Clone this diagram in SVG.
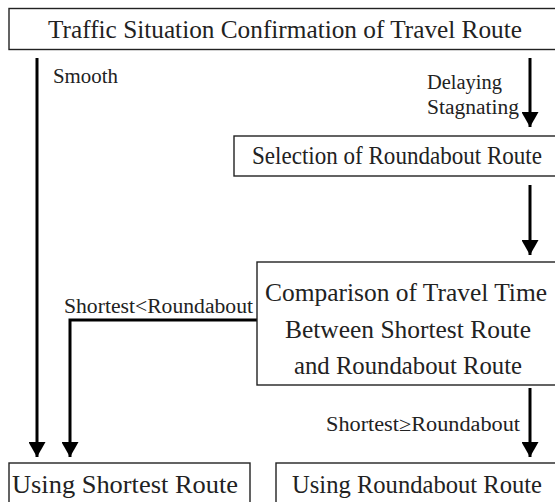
<svg xmlns="http://www.w3.org/2000/svg" width="555" height="502" viewBox="0 0 555 502">
<style>
.box{fill:#fff;stroke:#222;stroke-width:1.4}
.main{font-family:"Liberation Serif","Times New Roman",serif;font-size:25.5px;fill:#222}
.lbl{font-family:"Liberation Serif","Times New Roman",serif;font-size:20px;fill:#222}
.con{fill:none;stroke:#000;stroke-width:3;marker-end:url(#ah)}
</style>
<defs>
<marker id="ah" markerUnits="userSpaceOnUse" markerWidth="16" markerHeight="17" refX="15" refY="8.5" orient="auto" viewBox="0 0 16 17">
<path d="M0,0 L15,8.5 L0,17 z" fill="#000"/>
</marker>
</defs>
<rect width="555" height="502" fill="#fff"/>
<g id="connectors">
<path class="con" d="M37,58 V457"/>
<path class="con" d="M257,320 H70 V457"/>
<path class="con" d="M530,58 V127"/>
<path class="con" d="M530,185 V255"/>
<path class="con" d="M530,388 V457"/>
</g>
<g id="labels">
<text class="lbl" x="53" y="83" textLength="65" lengthAdjust="spacingAndGlyphs">Smooth</text>
<text class="lbl" x="427" y="89" textLength="75" lengthAdjust="spacingAndGlyphs">Delaying</text>
<text class="lbl" x="427" y="114" textLength="92" lengthAdjust="spacingAndGlyphs">Stagnating</text>
<text class="lbl" x="64" y="313" textLength="189" lengthAdjust="spacingAndGlyphs">Shortest&lt;Roundabout</text>
<text class="lbl" x="326" y="431" textLength="194" lengthAdjust="spacingAndGlyphs">Shortest≥Roundabout</text>
</g>
<g id="n1">
<rect class="box" x="9" y="8.5" width="547" height="41"/>
<text class="main" x="48" y="38" textLength="474" lengthAdjust="spacingAndGlyphs">Traffic Situation Confirmation of Travel Route</text>
</g>
<g id="n2">
<rect class="box" x="234" y="136" width="322" height="40"/>
<text class="main" x="252" y="164" textLength="290" lengthAdjust="spacingAndGlyphs">Selection of Roundabout Route</text>
</g>
<g id="n3">
<rect class="box" x="257" y="262" width="299" height="123"/>
<text class="main" x="265" y="301" textLength="282" lengthAdjust="spacingAndGlyphs">Comparison of Travel Time</text>
<text class="main" x="285" y="338" textLength="246" lengthAdjust="spacingAndGlyphs">Between Shortest Route</text>
<text class="main" x="294" y="374" textLength="228" lengthAdjust="spacingAndGlyphs">and Roundabout Route</text>
</g>
<g id="n4">
<rect class="box" x="9" y="463" width="241" height="40"/>
<text class="main" x="12" y="493" textLength="226" lengthAdjust="spacingAndGlyphs">Using Shortest Route</text>
</g>
<g id="n5">
<rect class="box" x="276" y="463" width="280" height="40"/>
<text class="main" x="292" y="493" textLength="250" lengthAdjust="spacingAndGlyphs">Using Roundabout Route</text>
</g>
</svg>
